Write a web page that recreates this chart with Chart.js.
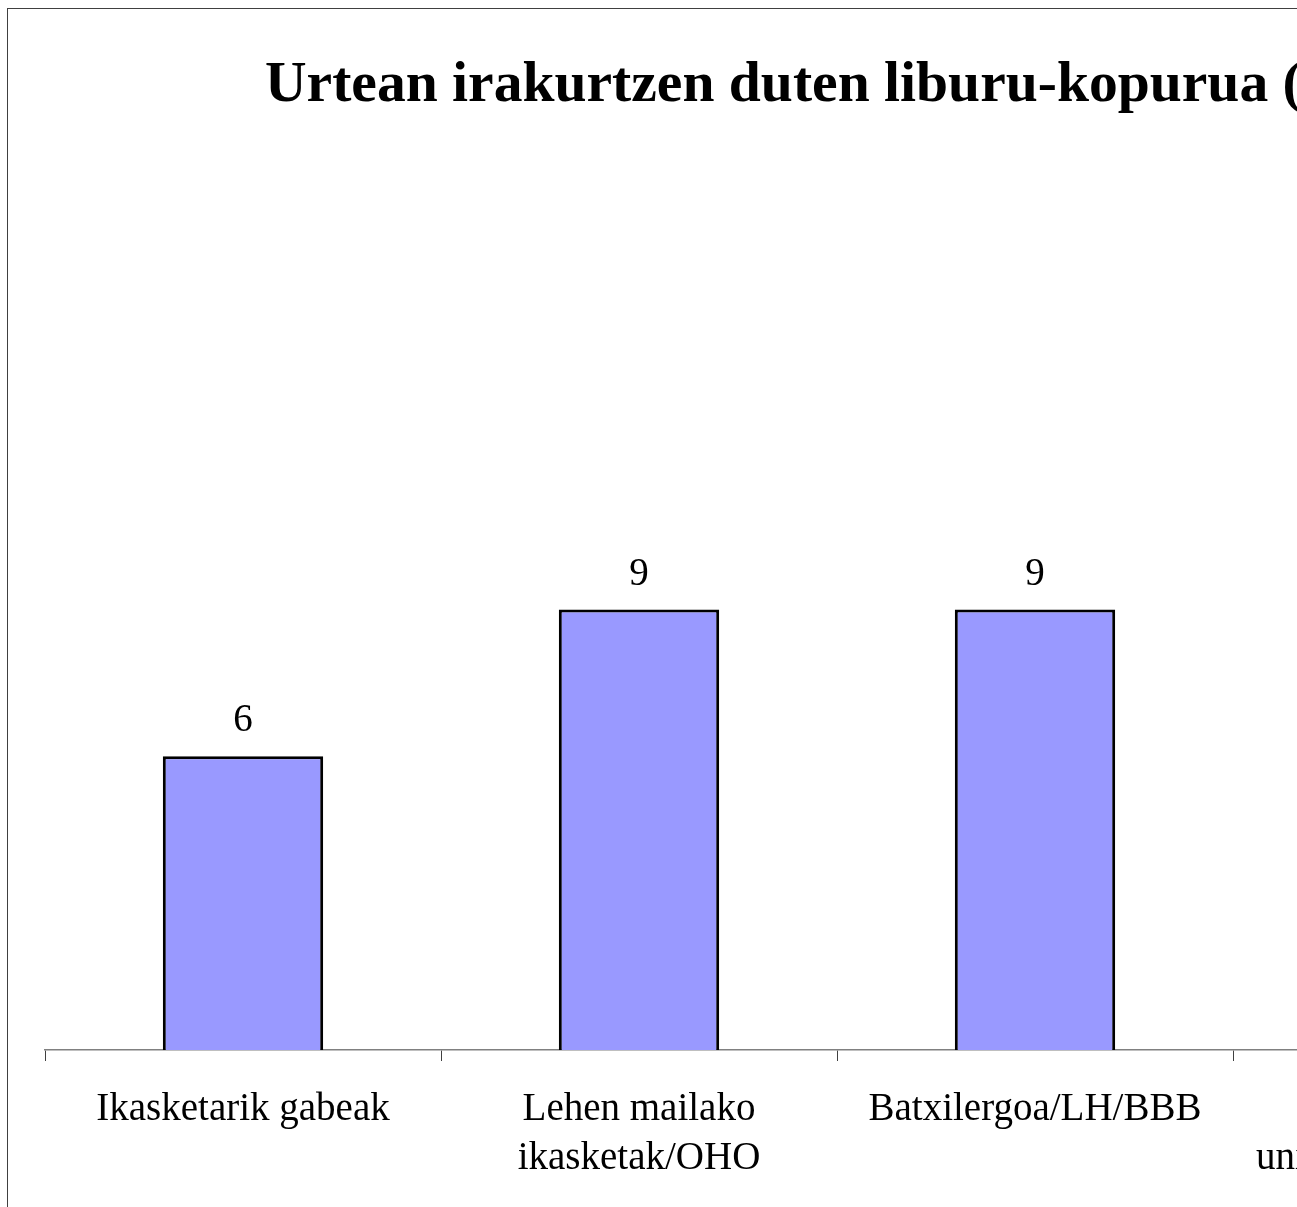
<!DOCTYPE html>
<html>
<head>
<meta charset="utf-8">
<script src="https://cdn.jsdelivr.net/npm/chart.js@4/dist/chart.umd.min.js"></script>
<style>
  html, body { margin: 0; padding: 0; background: #fff; overflow: hidden; }
  #frame {
    position: absolute; left: 7px; top: 8px;
    width: 1800px; height: 1300px;
    border-left: 1px solid #404040; border-top: 1px solid #404040;
  }
  #chart { position: absolute; left: 0; top: 0; }
</style>
</head>
<body>
<div id="frame"><canvas id="chart" width="1700" height="1250"></canvas></div>
<script>
// ── Data ──────────────────────────────────────────────────
const TITLE = "Urtean irakurtzen duten liburu-kopurua (ikasketa-mailaren arabera)";
const categories = [
  "Ikasketarik gabeak",
  ["Lehen mailako", "ikasketak/OHO"],
  "Batxilergoa/LH/BBB",
  ["Erdi mailako", "unibertsitate ikasketak"],
];
const books = [6, 9, 9, 13];
const yMax = 18;

const SERIF = "'Liberation Serif', 'Times New Roman', serif";

// ── Plugins: title text and value labels ──────────────────
const titlePlugin = {
  id: "leftTitle",
  afterDraw(chart) {
    const ctx = chart.ctx;
    ctx.save();
    ctx.font = `bold 57.6px ${SERIF}`;
    ctx.fillStyle = "#000";
    ctx.textAlign = "left";
    ctx.textBaseline = "alphabetic";
    ctx.fillText(TITLE, 257, 92);
    ctx.restore();
  },
};

const valueLabels = {
  id: "valueLabels",
  afterDatasetsDraw(chart) {
    const ctx = chart.ctx;
    const meta = chart.getDatasetMeta(0);
    ctx.save();
    ctx.font = `39px ${SERIF}`;
    ctx.fillStyle = "#000";
    ctx.textAlign = "center";
    ctx.textBaseline = "alphabetic";
    meta.data.forEach((bar, i) => {
      ctx.fillText(String(books[i]), bar.x, bar.y - 25);
    });
    ctx.restore();
  },
};

// ── Chart ─────────────────────────────────────────────────
new Chart(document.getElementById("chart"), {
  type: "bar",
  data: {
    labels: categories,
    datasets: [{
      data: books,
      backgroundColor: "#9999FF",
      borderColor: "#000",
      borderWidth: 3,
      barPercentage: 0.405,
      categoryPercentage: 1,
    }],
  },
  options: {
    responsive: false,
    animation: false,
    layout: { padding: { left: 37, right: 79, top: 160, bottom: 59 } },
    plugins: { legend: { display: false }, tooltip: { enabled: false }, title: { display: false } },
    scales: {
      x: {
        afterFit: (s) => { s.height = 150; },
        grid: { drawOnChartArea: false, drawTicks: true, tickLength: 11, color: "#404040", offset: true },
        border: { color: "#808080", width: 1.5 },
        ticks: { color: "#000", font: { family: SERIF, size: 39, lineHeight: 1.24 }, padding: 25, maxRotation: 0, autoSkip: false },
      },
      y: { display: false, min: 0, max: yMax },
    },
  },
  plugins: [titlePlugin, valueLabels],
});
</script>
</body>
</html>
